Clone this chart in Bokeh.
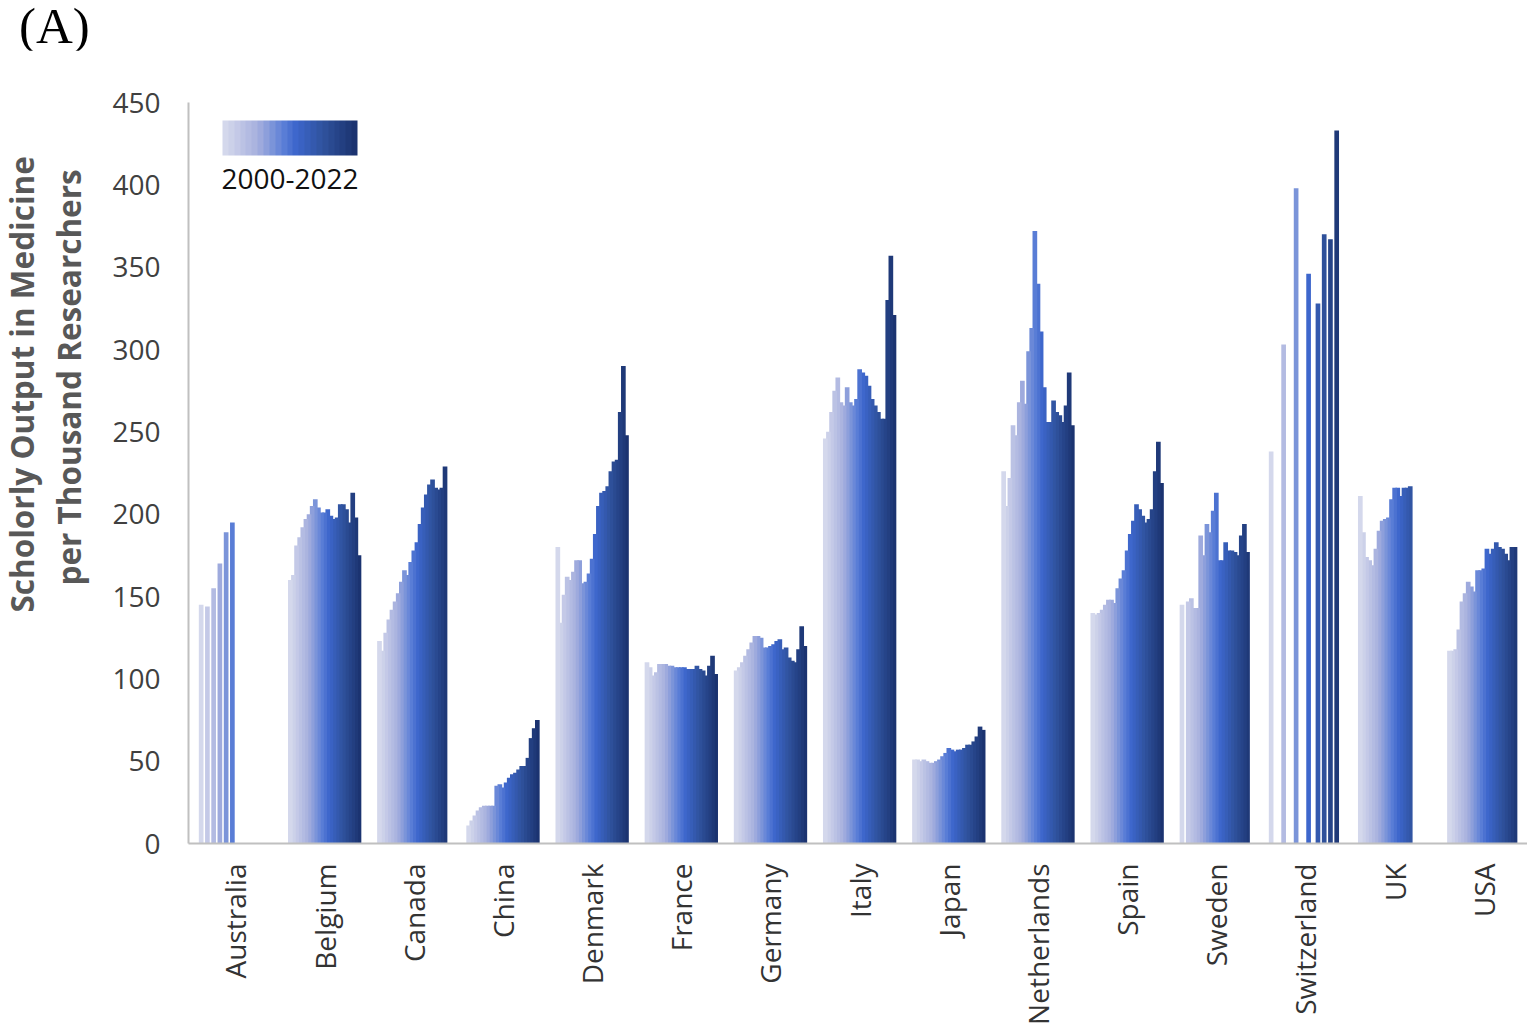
import math
from bokeh.plotting import figure
from bokeh.models import (ColumnDataSource, FixedTicker, ColorBar, LinearColorMapper,
                          Div, Range1d, Title)
from bokeh.layouts import column
from bokeh.embed import file_html
from bokeh.resources import INLINE

countries = ["Australia", "Belgium", "Canada", "China", "Denmark", "France", "Germany",
             "Italy", "Japan", "Netherlands", "Spain", "Sweden", "Switzerland", "UK", "USA"]
years = list(range(2000, 2023))
N = None

australia = [145, N, 144, N, 155, N, 170, N, 189, N, 195, N, N, N, N, N, N, N, N, N, N, N, N]
belgium = [160, 163, 181, 186, 192, 197, 200, 205, 209, 204, 201, 201, 203, 199, 197, 198,
           206, 206, 203, 195, 213, 198, 175]
canada = [123, 117, 128, 136, 142, 147, 152, 159, 166, 163, 171, 178, 183, 194, 204, 212,
          218, 221, 216, 215, 216, 229, N]
china = [11, 14, 17, 20, 22, 23, 23, 23, 23, 35, 36, 34, 37, 40, 42, 43, 45, 47, 47, 52,
         64, 70, 75]
denmark = [180, 134, 151, 162, 160, 165, 172, 172, 158, 159, 164, 173, 188, 205, 213, 214,
           217, 226, 232, 233, 262, 290, 248]
france = [110, 107, 102, 104, 109, 109, 109, 108, 108, 107, 107, 107, 107, 106, 106, 106,
          108, 106, 105, 102, 108, 114, 103]
germany = [105, 107, 110, 114, 118, 122, 126, 126, 125, 119, 119, 120, 121, 123, 124, 118,
           119, 113, 111, 110, 118, 132, 120]
italy = [246, 250, 262, 275, 283, 268, 266, 277, 268, 266, 270, 288, 286, 284, 278, 270,
         266, 262, 258, 258, 330, 357, 321]
japan = [51, 51, 50, 51, 50, 49, 49, 50, 51, 53, 55, 58, 57, 56, 57, 57, 58, 60, 60, 62,
         65, 71, 69]
netherlands = [226, 205, 222, 254, 248, 268, 281, 267, 299, 313, 372, 340, 311, 277, 256,
               256, 269, 262, 260, 256, 266, 286, 254]
spain = [140, 139, 140, 142, 145, 148, 148, 146, 155, 161, 166, 178, 188, 196, 206, 203,
         199, 195, 197, 203, 226, 244, 219]
sweden = [145, N, 147, 149, 143, 143, 187, 175, 194, 189, 202, 213, 172, 172, 183, 178,
          178, 177, 175, 187, 194, 177, N]
switzerland = [238, N, N, N, 303, N, N, N, 398, N, N, N, 346, N, N, 328, N, 370, N, 367,
               N, 433, N]
uk = [211, 189, 174, 172, 169, 179, 190, 196, 197, 198, 209, 216, 216, 211, 216, 216, 217,
      N, N, N, N, N, N]
usa = [117, 117, 118, 130, 147, 152, 159, 156, 153, 166, 166, 167, 179, 176, 179, 183, 180,
       179, 176, 172, 180, 180, N]

series = [australia, belgium, canada, china, denmark, france, germany, italy, japan,
          netherlands, spain, sweden, switzerland, uk, usa]

# colour gradient 2000 -> 2022
stops = [(0.00, (212, 216, 236)), (0.25, (167, 176, 222)), (0.45, (90, 126, 214)),
         (0.55, (61, 102, 204)), (0.75, (48, 83, 158)), (1.00, (27, 51, 112))]


def grad(t):
    for (t0, c0), (t1, c1) in zip(stops[:-1], stops[1:]):
        if t <= t1:
            f = (t - t0) / (t1 - t0)
            return "#%02x%02x%02x" % tuple(int(round(a + (b - a) * f)) for a, b in zip(c0, c1))
    return "#%02x%02x%02x" % stops[-1][1]


palette = [grad(k / (len(years) - 1)) for k in range(len(years))]

step = 0.035          # width of one year slot, in group units
xs, tops, cols, yrs, names = [], [], [], [], []
for j in reversed(range(len(years))):   # earliest year drawn last (on top)
    for i, vals in enumerate(series):
        v = vals[j]
        if v is None:
            continue
        xs.append(i + (j - 11) * step)
        tops.append(v)
        cols.append(palette[j])
        yrs.append(years[j])
        names.append(countries[i])

src = ColumnDataSource(dict(x=xs, top=tops, color=cols, year=yrs, country=names))

p = figure(width=1527, height=977, output_backend="svg", toolbar_location=None,
           x_range=Range1d(-0.527, 14.49), y_range=Range1d(0, 450),
           min_border_left=188, min_border_right=0, min_border_top=52,
           min_border_bottom=178)
p.vbar(x="x", top="top", bottom=0, width=step * 1.5, fill_color="color",
       line_color=None, source=src)

p.xgrid.visible = False
p.ygrid.visible = False
p.outline_line_color = None
p.background_fill_color = "white"

tick_font = "Open Sans"
p.yaxis.ticker = FixedTicker(ticks=list(range(0, 451, 50)))
p.yaxis.major_tick_line_color = None
p.yaxis.minor_tick_line_color = None
p.yaxis.axis_line_color = "#c0c0c0"
p.yaxis.axis_line_width = 2
p.yaxis.major_label_text_font = tick_font
p.yaxis.major_label_text_font_size = "28px"
p.yaxis.major_label_text_color = "#404040"
p.yaxis.major_label_standoff = 22

p.xaxis.ticker = FixedTicker(ticks=list(range(len(countries))))
p.xaxis.major_label_overrides = {i: c for i, c in enumerate(countries)}
p.xaxis.major_label_orientation = math.pi / 2
p.xaxis.major_tick_line_color = None
p.xaxis.minor_tick_line_color = None
p.xaxis.axis_line_color = "#c0c0c0"
p.xaxis.axis_line_width = 2
p.xaxis.major_label_text_font = tick_font
p.xaxis.major_label_text_font_size = "28px"
p.xaxis.major_label_text_color = "#333333"
p.xaxis.major_label_standoff = 14

# two-line y-axis title, positioned like the original
for txt, off, so in [("per Thousand Researchers", 258, 40),
                     ("Scholorly Output in Medicine", 231, -36)]:
    p.add_layout(Title(text=txt, align="left", offset=off, standoff=so,
                       text_font="Open Sans", text_font_style="bold",
                       text_font_size="31.5px", text_color="#585858"), "left")

mapper = LinearColorMapper(palette=palette, low=1999.5, high=2022.5)
cb = ColorBar(color_mapper=mapper, orientation="horizontal", width=135, height=35,
              location=(34, 652), padding=0, margin=0,
              ticker=FixedTicker(ticks=[2011]),
              major_label_overrides={2011: "2000-2022"},
              major_label_text_font=tick_font, major_label_text_font_size="28px",
              major_label_text_color="#111111", label_standoff=13,
              major_tick_line_color=None, minor_tick_line_color=None,
              bar_line_color=None, border_line_color=None, background_fill_alpha=0)
p.add_layout(cb, "center")

head = Div(text="(A)", width=300, height=40,
           styles={"font-family": "Liberation Serif", "font-size": "51px",
                   "line-height": "0.85", "padding-left": "14px", "color": "black",
                   "overflow": "visible"})

layout = column(head, p, spacing=0)
open("out.html", "w").write(file_html(layout, INLINE))
